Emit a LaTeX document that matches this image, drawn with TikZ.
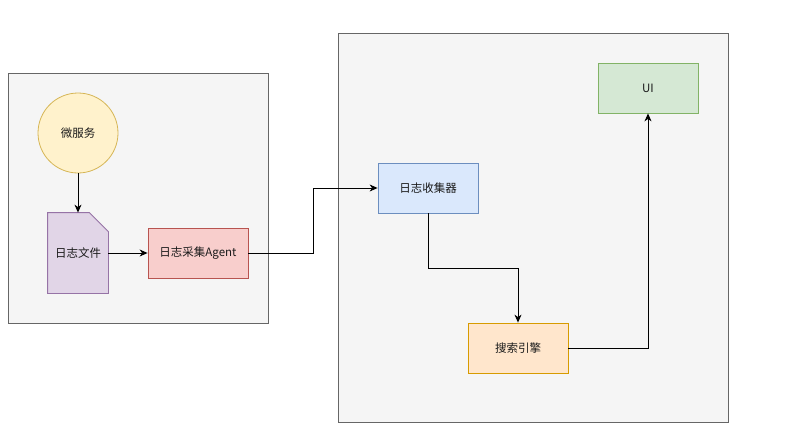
\documentclass[tikz,border=0pt]{standalone}
\usepackage{fontspec}
\setmainfont{Noto Sans CJK SC}
\usetikzlibrary{arrows.meta}
\definecolor{contfill}{HTML}{F5F5F5}
\definecolor{contline}{HTML}{666666}
\definecolor{yelfill}{HTML}{FFF2CC}
\definecolor{yelline}{HTML}{D6B656}
\definecolor{purfill}{HTML}{E1D5E7}
\definecolor{purline}{HTML}{9673A6}
\definecolor{redfill}{HTML}{F8CECC}
\definecolor{redline}{HTML}{B85450}
\definecolor{blufill}{HTML}{DAE8FC}
\definecolor{bluline}{HTML}{6C8EBF}
\definecolor{grnfill}{HTML}{D5E8D4}
\definecolor{grnline}{HTML}{82B366}
\definecolor{orgfill}{HTML}{FFE6CC}
\definecolor{orgline}{HTML}{D79B00}
\definecolor{txt}{HTML}{1A1A1A}
\tikzset{
  container/.style={draw=contline, fill=contfill, line width=0.7pt},
  box/.style={rectangle, minimum width=100pt, minimum height=50pt, inner sep=0pt, line width=0.8pt, font=\fontsize{11.5pt}{13pt}\selectfont, text=txt},
  conn/.style={line width=0.9pt, -{Stealth[length=8pt,width=7pt,inset=2.5pt]}},
}
\begin{document}
\begin{tikzpicture}[x=1pt,y=-1pt]
\useasboundingbox[fill=white] (0,0) rectangle (811,442);
% containers
\node[container, rectangle, minimum width=260pt, minimum height=250pt, anchor=north west] (left) at (8,73) {};
\node[container, rectangle, minimum width=390pt, minimum height=389pt, anchor=north west] (right) at (338,33) {};
% nodes
\node[box, circle, minimum size=80pt, draw=yelline, fill=yelfill] (svc) at (78,133) {微服务};
\node[box, minimum width=60pt, minimum height=80pt] (doc) at (78,253) {};
\path[draw=purline, fill=purfill, line width=0.8pt]
  (doc.north west) -- ([xshift=-19pt]doc.north east) -- ([yshift=-19pt]doc.north east)
  -- (doc.south east) -- (doc.south west) -- cycle;
\node[box, minimum width=60pt, minimum height=80pt] at (doc.center) {日志文件};
\node[box, draw=redline, fill=redfill] (agent) at (198,253) {日志采集Agent};
\node[box, draw=bluline, fill=blufill] (coll) at (428,188) {日志收集器};
\node[box, draw=grnline, fill=grnfill] (ui) at (648,88) {UI};
\node[box, draw=orgline, fill=orgfill] (search) at (518,348) {搜索引擎};
% connectors
\draw[conn] (svc) -- (doc);
\draw[conn] (doc) -- (agent);
\coordinate (m1) at (313,253);
\coordinate (m2) at (313,188);
\draw[conn] (agent.east) -- (m1) -- (m2) -- (coll.west);
\coordinate (m3) at (428,268);
\coordinate (m4) at (518,268);
\draw[conn] (coll.south) -- (m3) -- (m4) -- (search.north);
\coordinate (m5) at (648,348);
\draw[conn] (search.east) -- (m5) -- (ui.south);
\end{tikzpicture}
\end{document}
